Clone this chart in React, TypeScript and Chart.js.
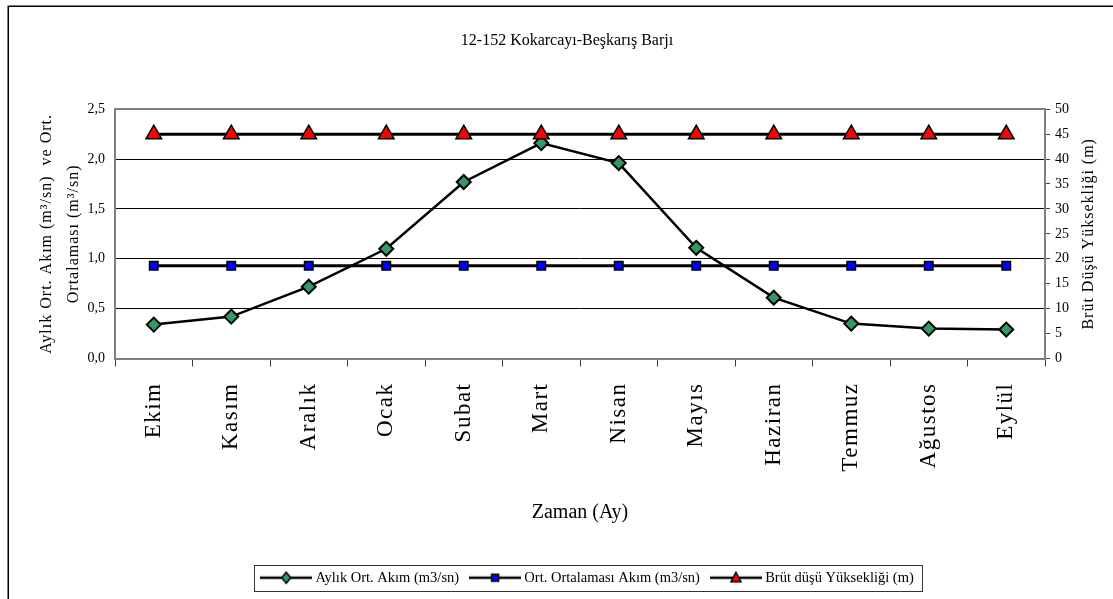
import React, { useEffect, useRef } from 'react';
import { Chart, registerables } from 'chart.js';

Chart.register(...registerables);

const chartTitle = '12-152 Kokarcayı-Beşkarış Barjı';
const months = ['Ekim', 'Kasım', 'Aralık', 'Ocak', 'Subat', 'Mart', 'Nisan', 'Mayıs', 'Haziran', 'Temmuz', 'Ağustos', 'Eylül'];
const monthlyFlow = [0.34, 0.42, 0.72, 1.10, 1.77, 2.16, 1.96, 1.11, 0.61, 0.35, 0.30, 0.29];
const meanFlow = [0.93, 0.93, 0.93, 0.93, 0.93, 0.93, 0.93, 0.93, 0.93, 0.93, 0.93, 0.93];
const grossHead = [45, 45, 45, 45, 45, 45, 45, 45, 45, 45, 45, 45];
const leftTickLabels = ['0,0', '0,5', '1,0', '1,5', '2,0', '2,5'];
const rightTickLabels = ['0', '5', '10', '15', '20', '25', '30', '35', '40', '45', '50'];
const seriesLabels = ['Aylık Ort. Akım (m3/sn)', 'Ort. Ortalaması Akım (m3/sn)', 'Brüt düşü Yüksekliği (m)'];
const leftAxisTitle = ['Aylık Ort. Akım (m³/sn)  ve Ort.', 'Ortalaması (m³/sn)'];
const rightAxisTitle = 'Brüt Düşü Yüksekliği (m)';
const xAxisTitle = 'Zaman (Ay)';

const FONT = "'Liberation Serif', 'Times New Roman', serif";

function makeLegendImage(kind: string, fill: string): HTMLCanvasElement {
  const c = document.createElement('canvas');
  c.width = 52;
  c.height = 16;
  const g = c.getContext('2d') as CanvasRenderingContext2D;
  g.strokeStyle = '#000';
  g.lineWidth = 2.5;
  g.beginPath();
  g.moveTo(0, 8);
  g.lineTo(52, 8);
  g.stroke();
  g.fillStyle = fill;
  g.lineWidth = 1.5;
  g.beginPath();
  if (kind === 'diamond') {
    g.moveTo(26, 2.5);
    g.lineTo(30.5, 8);
    g.lineTo(26, 13.5);
    g.lineTo(21.5, 8);
    g.closePath();
  } else if (kind === 'square') {
    g.rect(22.5, 4.5, 7, 7);
  } else {
    g.moveTo(26, 2.5);
    g.lineTo(31, 12);
    g.lineTo(21, 12);
    g.closePath();
  }
  g.fill();
  g.stroke();
  return c;
}

const framePlugin = {
  id: 'frame',
  beforeDraw(chart: any) {
    const ctx = chart.ctx;
    ctx.save();
    ctx.strokeStyle = '#000';
    ctx.lineWidth = 1.5;
    ctx.beginPath();
    ctx.moveTo(8.25, chart.height);
    ctx.lineTo(8.25, 6.25);
    ctx.lineTo(chart.width, 6.25);
    ctx.stroke();
    ctx.restore();
    // letter spacing for x tick labels and left axis title
    const xs = chart.scales.x;
    if (xs && !xs.__patched) {
      const orig = xs.drawLabels;
      xs.drawLabels = function (area: any) {
        const c = this.ctx;
        c.save();
        c.letterSpacing = '1.5px';
        orig.call(this, area);
        c.restore();
      };
      xs.__patched = true;
    }
    const ys = chart.scales.y;
    if (ys && !ys.__patched) {
      const origT = ys.drawTitle;
      ys.drawTitle = function (area: any) {
        const c = this.ctx;
        c.save();
        c.letterSpacing = '1px';
        origT.call(this, area);
        c.restore();
      };
      ys.__patched = true;
    }
  },
  afterLayout(chart: any) {
    const lg = chart.legend;
    if (lg) {
      lg.left += 22;
      lg.right += 22;
    }
  },
  afterDraw(chart: any) {
    const ctx = chart.ctx;
    // legend frame
    const boxes = chart.legend && chart.legend.legendHitBoxes;
    if (boxes && boxes.length) {
      const first = boxes[0];
      const last = boxes[boxes.length - 1];
      const cy = first.top + first.height / 2;
      const left = first.left - 10;
      const right = last.left + last.width + 8;
      ctx.save();
      ctx.strokeStyle = '#333';
      ctx.lineWidth = 1;
      ctx.strokeRect(Math.round(left) + 0.5, Math.round(cy - 13) + 0.5, Math.round(right - left), 26);
      ctx.restore();
    }
    // right axis title (reads bottom to top)
    const y1 = chart.scales.y1;
    if (y1) {
      ctx.save();
      ctx.font = `16px ${FONT}`;
      ctx.fillStyle = '#000';
      ctx.letterSpacing = '1px';
      ctx.textAlign = 'center';
      ctx.textBaseline = 'middle';
      ctx.translate(y1.right - 24, (y1.top + y1.bottom) / 2);
      ctx.rotate(-Math.PI / 2);
      ctx.fillText(rightAxisTitle, 0, 0);
      ctx.restore();
    }
  },
};

export default function App() {
  const ref = useRef<HTMLCanvasElement>(null);

  useEffect(() => {
    const canvas = ref.current;
    if (!canvas) return;
    const legendImgs = [
      makeLegendImage('diamond', '#339966'),
      makeLegendImage('square', '#0000FF'),
      makeLegendImage('triangle', '#FF0000'),
    ];
    Chart.defaults.color = '#000';
    Chart.defaults.font.family = FONT;

    const chart = new Chart(canvas, {
      type: 'line',
      data: {
        labels: months,
        datasets: [
          {
            label: seriesLabels[0],
            data: monthlyFlow,
            yAxisID: 'y',
            borderColor: '#000',
            borderWidth: 2.5,
            pointStyle: 'rectRot',
            pointRadius: 7,
            pointBackgroundColor: '#339966',
            pointBorderColor: '#000',
            pointBorderWidth: 2,
            tension: 0,
            order: 3,
          },
          {
            label: seriesLabels[1],
            data: meanFlow,
            yAxisID: 'y',
            borderColor: '#000',
            borderWidth: 3,
            pointStyle: 'rect',
            pointRadius: 6,
            pointBackgroundColor: '#0000FF',
            pointBorderColor: '#000',
            pointBorderWidth: 1.5,
            order: 2,
          },
          {
            label: seriesLabels[2],
            data: grossHead,
            yAxisID: 'y1',
            borderColor: '#000',
            borderWidth: 3,
            pointStyle: 'triangle',
            pointRadius: 9,
            pointBackgroundColor: '#FF0000',
            pointBorderColor: '#000',
            pointBorderWidth: 1.5,
            order: 1,
          },
        ],
      },
      options: {
        animation: false,
        responsive: true,
        maintainAspectRatio: false,
        events: [],
        layout: { padding: { left: 21, right: 0, top: 0, bottom: 4 } },
        plugins: {
          tooltip: { enabled: false },
          title: {
            display: true,
            text: chartTitle,
            color: '#000',
            font: { family: FONT, size: 16, weight: 'normal' },
            padding: { top: 31, bottom: 59 },
          },
          legend: {
            display: true,
            position: 'bottom',
            labels: {
              usePointStyle: true,
              pointStyleWidth: 44,
              padding: 14,
              color: '#000',
              font: { family: FONT, size: 14.5 },
              generateLabels: (ch: any) =>
                ch.data.datasets.map((ds: any, i: number) => ({
                  text: ds.label,
                  pointStyle: legendImgs[i],
                  datasetIndex: i,
                  hidden: false,
                  lineWidth: 0,
                  fillStyle: '#000',
                  strokeStyle: '#000',
                  fontColor: '#000',
                })),
            },
          },
        },
        scales: {
          x: {
            type: 'category',
            offset: true,
            grid: {
              display: true,
              drawOnChartArea: false,
              drawTicks: true,
              tickLength: 8,
              color: '#404040',
              lineWidth: 1,
              offset: true,
            },
            border: { display: true, color: '#808080', width: 2 },
            ticks: {
              autoSkip: false,
              maxRotation: 90,
              minRotation: 90,
              padding: 16,
              color: '#000',
              font: { family: FONT, size: 23 },
            },
            title: {
              display: true,
              text: xAxisTitle,
              color: '#000',
              font: { family: FONT, size: 20 },
              padding: { top: 0, bottom: 32 },
            },
            afterFit: (s: any) => {
              s.height = 198;
            },
          },
          y: {
            position: 'left',
            min: 0,
            max: 2.5,
            ticks: {
              stepSize: 0.5,
              padding: 10,
              color: '#000',
              font: { family: FONT, size: 14 },
              callback: (_v: any, i: number) => leftTickLabels[i],
            },
            grid: {
              drawTicks: false,
              color: (c: any) => (c.tick && c.tick.value === 2.5 ? '#808080' : '#000'),
              lineWidth: (c: any) => (c.tick && c.tick.value === 2.5 ? 2 : 1),
            },
            border: { display: true, color: '#808080', width: 2 },
            title: {
              display: true,
              text: leftAxisTitle,
              color: '#000',
              font: { family: FONT, size: 16, lineHeight: 1.65 },
              padding: { top: 13, bottom: 0 },
            },
            afterFit: (s: any) => {
              s.width = 94;
            },
          },
          y1: {
            position: 'right',
            min: 0,
            max: 50,
            ticks: {
              stepSize: 5,
              padding: 5,
              color: '#000',
              font: { family: FONT, size: 14 },
              callback: (_v: any, i: number) => rightTickLabels[i],
            },
            grid: {
              drawOnChartArea: false,
              drawTicks: true,
              tickLength: 5,
              color: '#404040',
            },
            border: { display: true, color: '#808080', width: 2 },
            afterFit: (s: any) => {
              s.width = 68;
            },
          },
        },
      } as any,
      plugins: [framePlugin],
    });

    return () => {
      chart.destroy();
    };
  }, []);

  return (
    <div
      style={{
        position: 'absolute',
        left: 0,
        top: 0,
        width: 1113,
        height: 599,
        background: '#fff',
        overflow: 'hidden',
      }}
    >
      <canvas ref={ref} />
    </div>
  );
}
